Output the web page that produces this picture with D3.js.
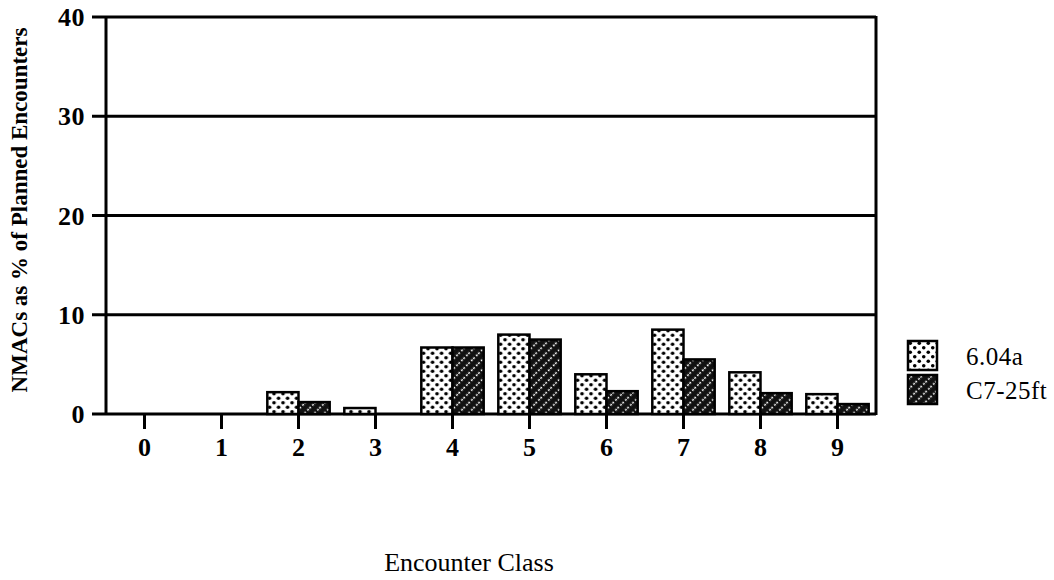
<!DOCTYPE html>
<html><head><meta charset="utf-8">
<script src="https://cdn.jsdelivr.net/npm/d3@7"></script>
<style>body{margin:0;background:#fff}svg{display:block}</style>
</head><body>
<svg id="c" width="1054" height="580"></svg>
<script>
const categories = ["0","1","2","3","4","5","6","7","8","9"];
const seriesNames = ["6.04a","C7-25ft"];
const values604a = [0, 0, 2.2, 0.6, 6.7, 8.0, 4.0, 8.5, 4.2, 2.0];
const valuesC7 = [0, 0, 1.2, 0, 6.7, 7.5, 2.3, 5.5, 2.1, 1.0];
const yTicks = [0, 10, 20, 30, 40];

const svg = d3.select("#c");
const L = 106, R = 876, T = 17, B = 414;
const defs = svg.append("defs");
// dotted pattern
const p1 = defs.append("pattern").attr("id","dots").attr("patternUnits","userSpaceOnUse")
  .attr("width",9).attr("height",9);
p1.append("rect").attr("width",9).attr("height",9).attr("fill","#fff");
p1.append("circle").attr("cx",2.25).attr("cy",2.25).attr("r",1.8).attr("fill","#000");
p1.append("circle").attr("cx",6.75).attr("cy",6.75).attr("r",1.8).attr("fill","#000");
// hatched pattern
const p2 = defs.append("pattern").attr("id","hatch").attr("patternUnits","userSpaceOnUse")
  .attr("width",7).attr("height",7).attr("patternTransform","rotate(-45)");
p2.append("rect").attr("width",7).attr("height",7).attr("fill","#111");
p2.append("line").attr("x1",0).attr("y1",3.5).attr("x2",7).attr("y2",3.5)
  .attr("stroke","#fff").attr("stroke-width",1.4).attr("stroke-dasharray","2,2");
const fills = ["url(#dots)","url(#hatch)"];

const x = d3.scaleBand().domain(categories).range([L,R]).paddingInner(0.19).paddingOuter(0.095);
const xs = d3.scaleBand().domain(seriesNames).range([0,x.bandwidth()]);
const y = d3.scaleLinear().domain([0,40]).range([B,T]);

// gridlines
svg.append("g").selectAll("line").data(yTicks).join("line")
  .attr("x1",L-14).attr("x2",R).attr("y1",d=>y(d)).attr("y2",d=>y(d))
  .attr("stroke","#000").attr("stroke-width",3);

// bars
const data = categories.map((c,i)=>({c, v:[values604a[i], valuesC7[i]]}));
const g = svg.append("g").selectAll("g").data(data).join("g")
  .attr("transform",d=>`translate(${x(d.c)},0)`);
g.selectAll("rect").data(d=>d.v.map((v,j)=>({v,j}))).join("rect")
  .filter(d=>d.v>0)
  .attr("x",d=>xs(seriesNames[d.j])).attr("width",xs.bandwidth())
  .attr("y",d=>y(d.v)).attr("height",d=>y(0)-y(d.v))
  .attr("fill",d=>fills[d.j]).attr("stroke","#000").attr("stroke-width",2.5);

// axes lines
svg.append("line").attr("x1",L).attr("x2",L).attr("y1",T).attr("y2",B+1).attr("stroke","#000").attr("stroke-width",3);
svg.append("line").attr("x1",R).attr("x2",R).attr("y1",T-1).attr("y2",B+1).attr("stroke","#000").attr("stroke-width",3);

// x axis
const xAxis = svg.append("g").attr("transform",`translate(0,${B})`)
  .call(d3.axisBottom(x).tickSize(15).tickPadding(9));
xAxis.select(".domain").remove();
xAxis.selectAll(".tick line").attr("stroke","#000").attr("stroke-width",3);
xAxis.selectAll("text").attr("font-family","Liberation Serif").attr("font-weight","bold")
  .attr("font-size",26).attr("fill","#000");

// y axis labels
svg.append("g").selectAll("text").data(yTicks).join("text")
  .attr("x",L-21).attr("y",d=>y(d)).attr("dy","0.35em").attr("text-anchor","end")
  .attr("font-family","Liberation Serif").attr("font-weight","bold").attr("font-size",26)
  .attr("letter-spacing",0.5).text(d=>d);

// y title
svg.append("text").attr("transform",`translate(27,210) rotate(-90)`)
  .attr("text-anchor","middle").attr("font-family","Liberation Serif").attr("font-weight","bold")
  .attr("font-size",23).text("NMACs as % of Planned Encounters");

// x title
svg.append("text").attr("x",469).attr("y",571).attr("text-anchor","middle")
  .attr("font-family","Liberation Serif").attr("font-size",26).text("Encounter Class");

// legend
const lg = svg.append("g").selectAll("g").data(seriesNames).join("g")
  .attr("transform",(d,i)=>`translate(908,${341+i*34})`);
lg.append("rect").attr("width",29).attr("height",29).attr("fill",(d,i)=>fills[i])
  .attr("stroke","#000").attr("stroke-width",2.5);
lg.append("text").attr("x",58).attr("y",15).attr("dy","0.35em")
  .attr("font-family","Liberation Serif").attr("font-size",25).attr("letter-spacing",0.5).text(d=>d);
</script>
</body></html>
